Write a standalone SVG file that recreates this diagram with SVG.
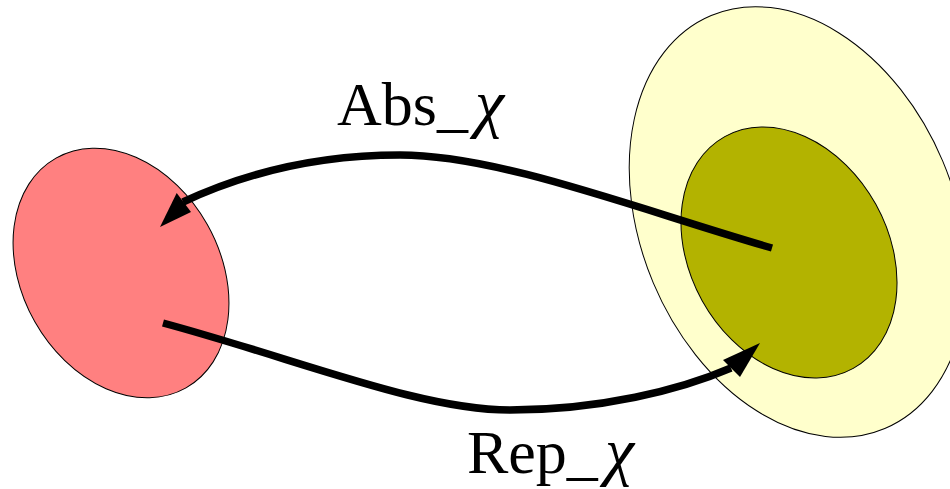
<svg xmlns="http://www.w3.org/2000/svg" width="950" height="489" viewBox="0 0 950 489">
<style>
.set{stroke:#000;stroke-width:1}
.conn{fill:none;stroke:#000;stroke-width:7.5}
.head{fill:#000;stroke:none}
.lbl{font-family:"Liberation Serif","Times New Roman",serif;font-size:62px;fill:#000}
.chi{font-style:italic;font-size:66px}
</style>
<rect width="950" height="489" fill="#fff"/>
<g id="concrete">
<ellipse class="set" cx="121" cy="273" rx="132" ry="99" transform="rotate(60.5 121 273)" fill="#FF8080"/>
</g>
<g id="abstract-outer">
<ellipse class="set" cx="798" cy="222" rx="224" ry="157" transform="rotate(67.2 798 222)" fill="#FFFFCC"/>
</g>
<g id="abstract-inner">
<ellipse class="set" cx="789" cy="252.5" rx="132.5" ry="99.3" transform="rotate(61 789 252.5)" fill="#B3B300"/>
</g>
<g id="connectors">
<path class="conn" d="M772,248 C640,210 500,155 400,155 C300,155 230,180 183,202"/>
<polygon class="head" points="160,227 176.7,193 191,212"/>
<path class="conn" d="M163,323 C300,360 420,410 510,410 C600,410 680,390 731,368"/>
<polygon class="head" points="760,343 723,360 740,377"/>
</g>
<g id="labels">
<text class="lbl" x="337" y="125">Abs_<tspan class="chi" dx="7">χ</tspan></text>
<text class="lbl" x="467" y="473">Rep_<tspan class="chi" dx="7">χ</tspan></text>
</g>
</svg>
